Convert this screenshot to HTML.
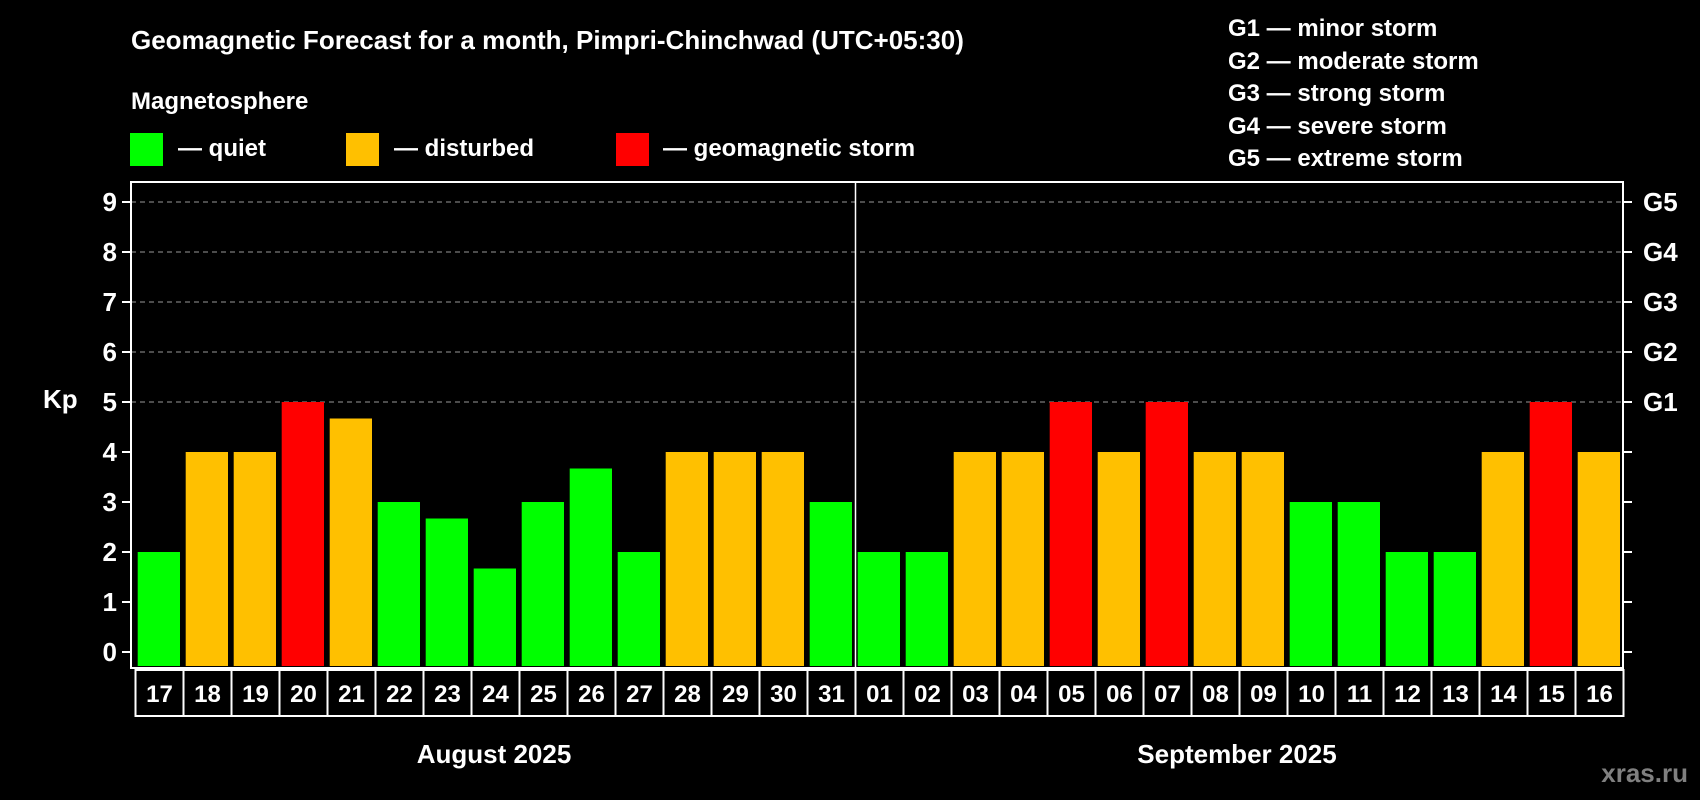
<!DOCTYPE html>
<html><head><meta charset="utf-8"><style>
html,body{margin:0;padding:0;background:#000;}
svg{display:block;font-family:"Liberation Sans",Arial,sans-serif;font-weight:bold;}
</style></head><body>
<svg width="1700" height="800" viewBox="0 0 1700 800">
<rect width="1700" height="800" fill="#000"/>
<text x="131" y="49" fill="#fff" font-size="26">Geomagnetic Forecast for a month, Pimpri-Chinchwad (UTC+05:30)</text>
<text x="131" y="109" fill="#fff" font-size="24">Magnetosphere</text>
<g><rect x="130" y="133" width="33" height="33" fill="#00ff00"/><text x="178" y="156" fill="#fff" font-size="24">— quiet</text></g>
<g><rect x="346" y="133" width="33" height="33" fill="#ffc000"/><text x="394" y="156" fill="#fff" font-size="24">— disturbed</text></g>
<g><rect x="616" y="133" width="33" height="33" fill="#ff0000"/><text x="663" y="156" fill="#fff" font-size="24">— geomagnetic storm</text></g>
<g fill="#fff" font-size="24">
<text x="1228" y="36">G1 — minor storm</text>
<text x="1228" y="69">G2 — moderate storm</text>
<text x="1228" y="101">G3 — strong storm</text>
<text x="1228" y="134">G4 — severe storm</text>
<text x="1228" y="166">G5 — extreme storm</text>
</g>
<text x="43" y="408" fill="#fff" font-size="26">Kp</text>
<g id="grid"></g><g id="bars"></g><g id="axes"></g><g id="dates"></g>
<text x="494" y="763" fill="#fff" font-size="26" text-anchor="middle">August 2025</text>
<text x="1237" y="763" fill="#fff" font-size="26" text-anchor="middle">September 2025</text>
<text x="1688" y="782" fill="#808080" font-size="26" text-anchor="end">xras.ru</text>
</svg>
<script>
const days=["17","18","19","20","21","22","23","24","25","26","27","28","29","30","31","01","02","03","04","05","06","07","08","09","10","11","12","13","14","15","16"];
const kp=[2,4,4,5,4.67,3,2.67,1.67,3,3.67,2,4,4,4,3,2,2,4,4,5,4,5,4,4,3,3,2,2,4,5,4];
const yTicks=[0,1,2,3,4,5,6,7,8,9];
const gLabels=["","","","","","G1","G2","G3","G4","G5"];
const NS="http://www.w3.org/2000/svg";
const L=131,R=1623,T=182,B=668,y0=652,unit=50;
const bx0=137.7,pitch=48.0,bw=42.3,dx0=135.5;
const y=v=>y0-v*unit;
function mk(tag,at,p){const e=document.createElementNS(NS,tag);for(const k in at)e.setAttribute(k,at[k]);p.appendChild(e);return e;}
const grid=document.getElementById('grid'),bars=document.getElementById('bars'),axes=document.getElementById('axes'),dates=document.getElementById('dates');
yTicks.forEach((t,i)=>{
 if(t>=5){const g=mk('line',{x1:L,x2:R,y1:y(t),y2:y(t),stroke:'#999','stroke-dasharray':'5,4','stroke-width':1},grid);
 
 }
 mk('line',{x1:L-9,x2:L,y1:y(t),y2:y(t),stroke:'#fff','stroke-width':2},axes);
 mk('line',{x1:R,x2:R+9,y1:y(t),y2:y(t),stroke:'#fff','stroke-width':2},axes);
 const tl=mk('text',{x:L-14,y:y(t)+9,fill:'#fff','font-size':26,'text-anchor':'end'},axes);tl.textContent=t;
 
 
 if(gLabels[i]){const gl=mk('text',{x:R+20,y:y(t)+9,fill:'#fff','font-size':26},axes);gl.textContent=gLabels[i];
 
 }
});
kp.forEach((v,i)=>{
 const c=v>=5?'#ff0000':(v>=4?'#ffc000':'#00ff00');
 const r=mk('rect',{x:bx0+i*pitch,y:y(v),width:bw,height:y0-y(v)+14,fill:c},bars);
 
 
 const d=mk('rect',{x:dx0+i*pitch,y:670,width:pitch,height:46,fill:'none',stroke:'#fff','stroke-width':2},dates);
 
 
 const t=mk('text',{x:dx0+i*pitch+pitch/2,y:702,fill:'#fff','font-size':24,'text-anchor':'middle'},dates);t.textContent=days[i];
 
 
});
const box=mk('rect',{x:L,y:T,width:R-L,height:B-T,fill:'none',stroke:'#fff','stroke-width':2},axes);


const div=mk('line',{x1:dx0+15*pitch,x2:dx0+15*pitch,y1:T,y2:B,stroke:'#fff','stroke-width':1.5},axes);


</script>
</body></html>
